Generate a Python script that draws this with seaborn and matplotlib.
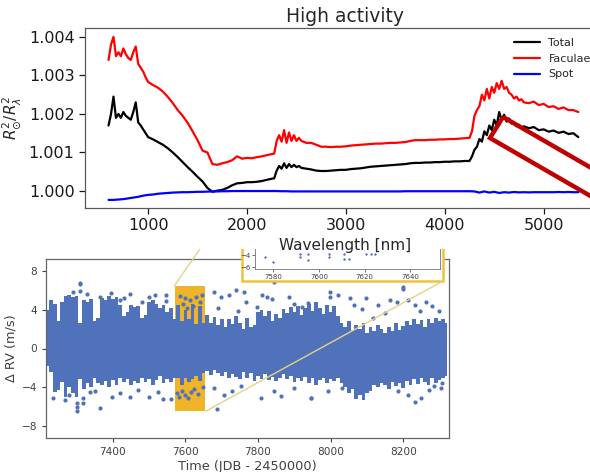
import numpy as np
import pandas as pd
import matplotlib
matplotlib.use("Agg")
import matplotlib.pyplot as plt
import seaborn as sns
from matplotlib.patches import Rectangle, Polygon, ConnectionPatch
from matplotlib.ticker import FormatStrFormatter

sns.set_theme(style="ticks")
plt.rcParams['font.family'] = ['DejaVu Sans']

# ---------------- top panel data (deviation from 1, in units of 1e-4) ----------------
# grid shared by Total and Faculae (finer where the spectra are noisy)
wl_tf = [600, 625, 650, 675, 700, 725, 750, 775, 800, 825, 850, 875, 900, 925, 950, 975, 1000,
         1050, 1100, 1150, 1200, 1250, 1300, 1350, 1400, 1450, 1500, 1550, 1600, 1650, 1700,
         1750, 1800, 1850, 1900, 1950, 2000, 2050, 2100, 2150, 2200, 2250,
         2275, 2300, 2325, 2350, 2375, 2400, 2425, 2450, 2475, 2500, 2525, 2550,
         2600, 2650, 2700, 2750, 2800, 2850, 2900, 2950, 3000, 3050, 3100, 3150, 3200, 3250,
         3300, 3350, 3400, 3450, 3500, 3550, 3600, 3650, 3700, 3750, 3800, 3850, 3900, 3950,
         4000, 4050, 4100, 4150, 4200, 4250,
         4275, 4300, 4325, 4350, 4375, 4400, 4425, 4450, 4475, 4500, 4525, 4550, 4575, 4600,
         4625, 4650, 4675, 4700, 4725, 4750, 4775, 4800,
         4850, 4900, 4950, 5000, 5050, 5100, 5150, 5200, 5250, 5300, 5350]

faculae_dev = [34, 38, 40, 35, 36, 35, 37, 35.5, 34.5, 34, 36, 37.5, 33, 32, 31, 29.5, 28.3,
               27.5, 26.8, 25.8, 24.4, 22.8, 21, 19.5, 17.7, 15.5, 13.2, 10.5, 10, 7, 6.8,
               7.2, 7.5, 8, 9, 8.4, 8.6, 8.5, 8.8, 9, 9.3, 9.6,
               9.7, 13, 14.5, 12.8, 15.8, 12.5, 15.2, 13, 14.5, 13, 13.8, 13,
               12.5, 12.5, 12, 11.5, 11.5, 11.4, 11.5, 11.5, 11.6, 11.8, 11.9, 12, 12.1, 12.2,
               12.3, 12.3, 12.4, 12.5, 12.5, 12.6, 12.7, 13, 13.2, 13.2, 13.2, 13.3, 13.3, 13.4,
               13.4, 13.5, 13.5, 13.6, 13.7, 13.8,
               15.5, 19.5, 21, 22, 25, 23.5, 26.5, 24, 27, 25.5, 28, 26.5, 28.6, 26.5,
               27, 25.5, 25, 24, 24.5, 23.5, 23.8, 23,
               22.8, 23.2, 22.3, 22.6, 21.8, 22, 21.3, 21.7, 21, 21, 20.5]

total_dev = [17, 20, 24.5, 19, 20, 19, 20.5, 19.5, 19, 18.5, 20.5, 23, 17.8, 17, 16, 15, 14,
             13.4, 12.7, 12, 11.1, 10, 8.8, 7.5, 6.2, 5, 3.7, 2.5, 0.8, -0.2, 0.1,
             0.3, 0.8, 1.5, 2, 2.1, 2.3, 2.3, 2.4, 2.6, 2.9, 3.2,
             3.3, 5.3, 6.5, 5.8, 7.2, 6, 7, 6.2, 6.8, 6.2, 6.5, 6,
             5.8, 5.6, 5.3, 5.2, 5.2, 5.3, 5.4, 5.5, 5.5, 5.7, 5.8, 5.9, 6.1, 6.3,
             6.4, 6.5, 6.6, 6.7, 6.8, 6.9, 7, 7.2, 7.3, 7.3, 7.4, 7.4, 7.5, 7.5,
             7.6, 7.6, 7.7, 7.7, 7.8, 7.8,
             9, 10.7, 11.5, 13.5, 12.8, 15.5, 14.5, 17, 15.8, 18.5, 17, 20.5, 18.5, 19.8,
             18, 18.8, 17.5, 17.8, 16.8, 17.2, 16.5, 16.8,
             16.3, 16.6, 15.8, 16, 15.4, 15.7, 15.1, 15.4, 14.8, 15, 14]

wl_spot = [600, 650, 700, 750, 800, 850, 900, 950, 1000, 1050,
           1100, 1150, 1200, 1250, 1300, 1350, 1400, 1450, 1500, 1550,
           1600, 1650, 1700, 1750, 1800, 1850, 1900, 1950, 2000, 2050,
           2100, 2150, 2200, 2250, 2300, 2350, 2400, 2450, 2500, 2550,
           2600, 2650, 2700, 2750, 2800, 2850, 2900, 2950, 3000, 3050,
           3100, 3150, 3200, 3250, 3300, 3350, 3400, 3450, 3500, 3550,
           3600, 3650, 3700, 3750, 3800, 3850, 3900, 3950, 4000, 4050,
           4100, 4150, 4200, 4250, 4300, 4350, 4400, 4450, 4500, 4550,
           4600, 4650, 4700, 4750, 4800, 4850, 4900, 4950, 5000, 5050,
           5100, 5150, 5200, 5250, 5300, 5350]

spot_dev = [-2.3, -2.3, -2.2, -2.1, -1.9, -1.7, -1.5, -1.2, -1.0, -0.9,
            -0.7, -0.6, -0.5, -0.4, -0.35, -0.3, -0.3, -0.25, -0.2, -0.2,
            -0.15, -0.1, -0.1, -0.05, -0.05, 0, 0, 0, 0, 0,
            0, 0, 0, 0, 0, -0.05, -0.05, -0.1, -0.1, -0.1,
            -0.1, -0.1, -0.1, -0.1, -0.1, -0.1, -0.1, -0.1, -0.1, -0.1,
            -0.1, -0.1, -0.1, -0.1, -0.1, -0.1, -0.1, -0.1, -0.1, -0.1,
            -0.05, -0.05, -0.05, -0.05, -0.05, -0.05, -0.05, -0.05, -0.05, -0.05,
            -0.05, -0.05, -0.05, -0.05, -0.1, -0.4, -0.1, -0.4, -0.2, -0.5,
            -0.3, -0.4, -0.25, -0.35, -0.3, -0.35, -0.3, -0.3, -0.3, -0.3,
            -0.3, -0.25, -0.3, -0.25, -0.3, -0.3]

series_names = ["Total", "Faculae", "Spot"]
series_colors = ["black", "red", "blue"]
y_ticks_top = [1.000, 1.001, 1.002, 1.003, 1.004]
x_ticks_top = [1000, 2000, 3000, 4000, 5000]

# ---------------- bottom panel data (RV) ----------------
rv_time = [7220, 7230, 7240, 7250, 7260, 7270, 7280, 7290, 7300, 7310,
           7320, 7330, 7340, 7350, 7360, 7370, 7380, 7390, 7400, 7410,
           7420, 7430, 7440, 7450, 7460, 7470, 7480, 7490, 7500, 7510,
           7520, 7530, 7540, 7550, 7560, 7570, 7580, 7590, 7600, 7610,
           7620, 7630, 7640, 7650, 7660, 7670, 7680, 7690, 7700, 7710,
           7720, 7730, 7740, 7750, 7760, 7770, 7780, 7790, 7800, 7810,
           7820, 7830, 7840, 7850, 7860, 7870, 7880, 7890, 7900, 7910,
           7920, 7930, 7940, 7950, 7960, 7970, 7980, 7990, 8000, 8010,
           8020, 8030, 8040, 8050, 8060, 8070, 8080, 8090, 8100, 8110,
           8120, 8130, 8140, 8150, 8160, 8170, 8180, 8190, 8200, 8210,
           8220, 8230, 8240, 8250, 8260, 8270, 8280, 8290, 8300, 8310,
           8320]

rv_upper = [4.0, 5.0, 4.6, 2.8, 4.8, 5.4, 5.5, 5.3, 5.4, 2.6,
            5.0, 4.8, 5.1, 2.8, 3.2, 5.2, 5.0, 5.4, 5.1, 5.3,
            4.5, 3.4, 3.8, 4.5, 4.3, 4.4, 3.2, 3.5, 4.8, 5.0,
            4.6, 4.2, 4.5, 3.8, 4.2, 3.0, 4.5, 2.8, 4.0, 3.0,
            4.6, 2.5, 4.4, 2.6, 3.5, 2.6, 3.3, 2.4, 3.0, 2.2,
            3.1, 2.5, 3.4, 2.6, 2.0, 3.2, 2.2, 2.4, 3.8, 4.0,
            3.4, 3.9, 2.8, 3.6, 3.2, 4.1, 3.7, 4.3, 3.8, 4.4,
            3.5, 4.2, 4.6, 3.9, 4.8, 4.2, 3.6, 4.5, 3.8, 4.4,
            3.4, 2.6, 2.2, 2.8, 1.8, 2.4, 2.0, 2.6, 1.6, 2.2,
            1.8, 2.4, 2.0, 1.6, 2.2, 1.8, 2.6, 1.9, 2.3, 2.8,
            2.4, 3.0, 2.5, 2.9, 2.2, 3.0, 2.6, 3.2, 2.8, 3.0,
            2.6]

rv_lower = [-1.8, -2.4, -4.5, -4.3, -3.5, -5.0, -4.0, -4.6, -5.0, -3.2,
            -4.2, -3.6, -4.0, -3.0, -3.6, -3.8, -3.4, -4.0, -3.3, -3.8,
            -3.0, -3.5, -3.2, -3.8, -3.4, -3.6, -3.0, -3.5, -3.2, -3.8,
            -3.3, -2.8, -3.6, -3.2, -3.5, -3.0, -3.0, -3.8, -3.0, -3.5,
            -3.2, -2.8, -3.4, -2.5, -2.3, -2.7, -2.2, -2.5, -2.8, -2.4,
            -3.0, -2.6, -2.9, -3.2, -2.4, -3.0, -2.5, -3.4, -2.8, -3.2,
            -2.6, -3.3, -2.9, -3.4, -3.0, -2.6, -3.2, -2.8, -3.5, -3.0,
            -3.4, -2.9, -3.6, -3.1, -3.8, -3.3, -3.0, -3.6, -3.2, -3.4,
            -3.0, -3.6, -4.0, -4.6, -4.2, -5.2, -4.8, -5.3, -4.6, -4.4,
            -3.8, -4.0, -3.6, -3.8, -4.2, -3.5, -3.9, -3.6, -4.1, -3.4,
            -3.8, -3.2, -3.7, -3.0, -3.5, -3.8, -3.1, -3.6, -3.3, -3.0,
            -2.8]

out_time = [7309, 7309, 7309, 7446, 7515, 7547, 7547, 7290, 7330, 7365, 7395, 7430, 7480, 7500, 7420,
            7235, 7268, 7301, 7301, 7301, 7317, 7317, 7364, 7337, 7397, 7446, 7501, 7537, 7561,
            7280, 7350, 7420, 7470, 7525,
            7585, 7592, 7600, 7605, 7612, 7620, 7628, 7640, 7645,
            7578, 7583, 7590, 7598, 7606, 7615, 7625, 7635, 7648,
            7679, 7698, 7720, 7739, 7761, 7766, 7810, 7824, 7838, 7884, 7898, 7920, 7939, 7690, 7745, 7797, 7843,
            7687, 7679, 7706, 7729, 7752, 7808, 7845, 7863, 7900, 7945,
            7999, 7997, 8021, 8054, 8063, 8098, 8085, 8131, 8164, 8182, 8200, 8200, 8213, 8231, 8245, 8262,
            8280, 8298, 8150, 8118,
            7947, 7994, 8030, 8186, 8213, 8232, 8249, 8271, 8285, 8303, 8307]
out_rv = [6.65, 5.9, 6.75, 5.6, 5.5, 5.5, 4.9, 5.8, 5.6, 5.3, 5.7, 5.2, 4.8, 5.3, 5.0,
          -5.1, -5.3, -5.6, -6.0, -6.5, -5.1, -5.6, -6.1, -4.5, -5.0, -5.0, -5.0, -5.2, -5.2,
          -4.8, -4.4, -4.6, -4.3, -4.5,
          5.4, 4.6, 5.2, 4.2, 5.0, 4.4, 5.3, 4.8, 5.5,
          -4.6, -5.0, -4.4, -4.8, -5.1, -4.5, -4.2, -4.7, -4.0,
          5.8, 5.3, 5.5, 6.0, 5.8, 4.8, 5.5, 5.3, 5.1, 5.3, 4.6, 4.3, 4.7, 4.2, 3.9, 4.3, 6.9,
          -6.3, -4.1, -4.8, -4.4, -3.9, -5.1, -4.4, -4.9, -4.1, -5.1,
          5.8, 5.3, 5.5, 5.2, 4.5, 5.2, 4.1, 4.5, 5.0, 4.8, 6.2, 6.4, 5.0, 4.5, 3.9, 4.8,
          4.4, 3.9, 3.7, 3.2,
          -5.1, -4.4, -4.1, -4.4, -4.8, -5.5, -5.1, -4.3, -3.9, -4.1, -3.6]

inset_time = [7576.3, 7579.8, 7591.6, 7591.6, 7595, 7595, 7604.6, 7604.6, 7611, 7611, 7613, 7620.7, 7623, 7624.6]
inset_rv = [-4.3, -5.2, -3.8, -4.3, -3.8, -4.8, -3.8, -4.3, -3.8, -4.7, -4.7, -3.8, -3.8, -3.8]

zoom_t0, zoom_t1 = 7570, 7655
zoom_v0, zoom_v1 = -6.5, 6.5

rv_xticks = [7400, 7600, 7800, 8000, 8200]
rv_yticks = [-8, -4, 0, 4, 8]
inset_xticks = [7580, 7600, 7620, 7640]
inset_yticks = [-6, -4]   # the upper part of the inset is hidden behind the top panel

# ---------------- figure ----------------
W, H = 590, 472
fig = plt.figure(figsize=(W / 100, H / 100), dpi=100)


def fx(px):
    return px / W


def fy(py):
    return 1 - py / H


rv_color = "#4f72bb"
gold = "#f0b429"
gray_txt = "0.25"

# bottom panel
axb = fig.add_axes([fx(46), fy(438), fx(449) - fx(46), fy(259) - fy(438)])
axb.set_zorder(0)
axb.add_patch(Rectangle((zoom_t0, zoom_v0), zoom_t1 - zoom_t0, zoom_v1 - zoom_v0,
                        facecolor=gold, edgecolor="none", zorder=1))
axb.fill_between(rv_time, rv_lower, rv_upper, step="mid", color=rv_color, lw=0, zorder=2)
sns.scatterplot(x=out_time, y=out_rv, ax=axb, color=rv_color, s=9, linewidth=0, zorder=3)
axb.set_xlim(7216, 8326)
axb.set_ylim(-9.25, 9.25)
axb.set_xticks(rv_xticks)
axb.set_yticks(rv_yticks)
axb.tick_params(labelsize=7.6, colors=gray_txt, length=3, width=0.8)
axb.set_xlabel("Time (JDB - 2450000)", fontsize=9.3, color=gray_txt, labelpad=2)
axb.set_ylabel("Δ RV (m/s)", fontsize=9.3, color=gray_txt, labelpad=3)
for sp in axb.spines.values():
    sp.set_color("0.4")
    sp.set_linewidth(0.9)

# inset frame + inset axes
frame_x0, frame_x1 = fx(242), fx(443)
frame_y0, frame_y1 = fy(281), fy(188)
fig.add_artist(Rectangle((frame_x0, frame_y0), frame_x1 - frame_x0, frame_y1 - frame_y0,
                         transform=fig.transFigure, facecolor="white", edgecolor="#efc23d",
                         lw=1.8, zorder=0.3))
axi = fig.add_axes([fx(255), fy(269), fx(440) - fx(255), fy(193) - fy(269)])
axi.set_zorder(0.5)
sns.scatterplot(x=inset_time, y=inset_rv, ax=axi, color=rv_color, s=3, linewidth=0)
axi.set_xlim(7572, 7653)
axi.set_ylim(-6.3, 6.3)
axi.set_xticks(inset_xticks)
axi.set_yticks(inset_yticks)
axi.tick_params(labelsize=5, colors=gray_txt, length=2, width=0.5, pad=1.5)
for sp in axi.spines.values():
    sp.set_color("0.45")
    sp.set_linewidth(0.6)

# connectors
con1 = ConnectionPatch(xyA=(zoom_t0, zoom_v1), coordsA=axb.transData,
                       xyB=(frame_x0, frame_y1), coordsB=fig.transFigure,
                       color="#e6d08a", lw=1.0, zorder=0.4)
con2 = ConnectionPatch(xyA=(zoom_t1, zoom_v0), coordsA=axb.transData,
                       xyB=(frame_x1, frame_y0), coordsB=fig.transFigure,
                       color="#e6d08a", lw=1.0, zorder=0.4)
fig.add_artist(con1)
fig.add_artist(con2)

# white cover under the top panel
fig.add_artist(Rectangle((0, fy(249)), 1, 1 - fy(249), transform=fig.transFigure,
                         facecolor="white", edgecolor="none", zorder=1))

# top panel
axt = fig.add_axes([fx(85), fy(208), fx(605) - fx(85), fy(28) - fy(208)])
axt.set_zorder(2)
df = pd.DataFrame({
    "wavelength": wl_tf + wl_tf + wl_spot,
    "value": [1 + v * 1e-4 for v in total_dev + faculae_dev + spot_dev],
    "series": ["Total"] * len(wl_tf) + ["Faculae"] * len(wl_tf) + ["Spot"] * len(wl_spot),
})
sns.lineplot(data=df, x="wavelength", y="value", hue="series", hue_order=series_names,
             palette=dict(zip(series_names, series_colors)), estimator=None, lw=1.6, ax=axt)
axt.set_xlim(362, 5620)
axt.set_ylim(0.99956, 1.00423)
axt.set_yticks(y_ticks_top)
axt.yaxis.set_major_formatter(FormatStrFormatter("%.3f"))
axt.set_xticks(x_ticks_top)
axt.tick_params(labelsize=11.5, colors="0.1", length=4, width=0.9)
axt.set_xlabel("Wavelength [nm]", fontsize=11, labelpad=3)
axt.set_ylabel(r"$R_{\odot}^2/R_{\lambda}^2$", fontsize=11)
axt.set_title("High activity", fontsize=13.5, pad=4)
for sp in axt.spines.values():
    sp.set_color("0.35")
    sp.set_linewidth(0.9)
handles, labels = axt.get_legend_handles_labels()
leg = axt.legend(handles, labels, loc="upper left", bbox_to_anchor=((509.6 - 85) / 520, 0.967),
                 frameon=False, fontsize=8, handlelength=2.3, labelspacing=0.5,
                 borderaxespad=0)
for ln in leg.get_lines():
    ln.set_linewidth(1.6)

# red outline arrow shape (annotation)
ang = np.deg2rad(30)
d = np.array([np.cos(ang), np.sin(ang)])
A = np.array([503, 117])
B = np.array([490, 138])
L = 220
pts_px = [A, B, B + L * d, A + L * d]
pts_fig = [(fx(p[0]), fy(p[1])) for p in pts_px]
fig.add_artist(Polygon(pts_fig, closed=True, fill=False, edgecolor="#c00000", lw=3.2,
                       transform=fig.transFigure, zorder=3, joinstyle="miter"))

fig.savefig("out.png", dpi=100)
